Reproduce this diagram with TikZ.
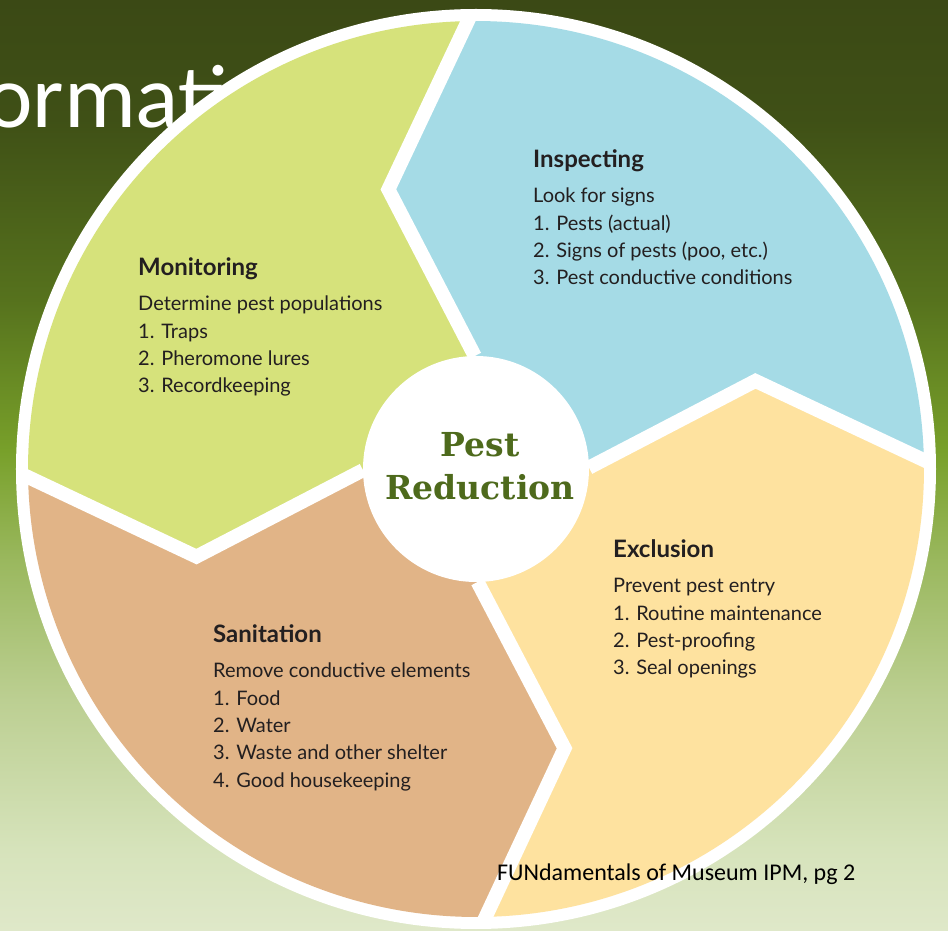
\documentclass[tikz,border=0pt]{standalone}
\usepackage{fontspec}
\setmainfont{Lato}
\newfontfamily\slabfont{DejaVu Serif}
\newfontfamily\slidefont{Carlito}
\usetikzlibrary{positioning}

\definecolor{segGreen}{HTML}{D6E27B}
\definecolor{segBlue}{HTML}{A5DBE6}
\definecolor{segYellow}{HTML}{FEE29F}
\definecolor{segTan}{HTML}{E1B487}
\definecolor{inkDark}{HTML}{231F20}
\definecolor{hubGreen}{HTML}{4E6A1C}
\definecolor{bgTop}{HTML}{3B4915}
\definecolor{bgDark}{HTML}{3F5016}
\definecolor{bgOlive}{HTML}{56721D}
\definecolor{bgBright}{HTML}{78A02A}
\definecolor{bgLight}{HTML}{9AB85E}
\definecolor{bgPale}{HTML}{BCCF92}
\definecolor{bgPaler}{HTML}{D6E3BB}
\definecolor{bgBottom}{HTML}{DFE8C9}

\pgfdeclareverticalshading{slidebg}{100bp}{color(0bp)=(bgBottom); color(25bp)=(bgBottom);
  color(29.4bp)=(bgPaler); color(37.4bp)=(bgPale); color(44.9bp)=(bgLight);
  color(50.8bp)=(bgBright); color(58.9bp)=(bgOlive); color(68.6bp)=(bgDark);
  color(75bp)=(bgTop); color(100bp)=(bgTop)}

% list of lines, first baseline on the node's base
\newcommand{\steplines}[1]{\begin{tabular}[t]{@{}l@{}}#1\end{tabular}}

\tikzset{
  whitegap/.style={white, line width=14pt, line join=miter},
  hubdisc/.style={circle, fill=white, inner sep=0pt, minimum size=226pt},
  stephead/.style={anchor=base west, inner sep=0pt, text=inkDark, font=\fontsize{24}{28}\selectfont\bfseries},
  stepbody/.style={anchor=base west, inner sep=0pt, text=inkDark, font=\fontsize{20}{27.3}\selectfont},
}

\begin{document}
\begin{tikzpicture}[x=1pt, y=1pt]
\clip (-476,-462) rectangle (472,469);
\shade[shading=slidebg] (-476,-462) rectangle (472,469);
\node[anchor=base west, inner sep=0pt, text=white, font=\slidefont\fontsize{90}{90}\selectfont] (slidetitle) at (-491,341) {ormati};

% wheel
\fill[white] (0,0) circle (460);
\foreach \a/\b/\col in {0.7/90.6/segBlue, 90.6/180.6/segGreen, 180.6/270.8/segTan, 270.8/360.7/segYellow}
  \fill[\col] (\a:113) -- ({\a+16.8}:293) -- (\a:448) arc[start angle=\a, end angle=\b, radius=448] -- ({\b+16.8}:293) -- (\b:113) -- cycle;
\foreach \a in {0.7,90.6,180.6,270.8}
  \draw[whitegap] (\a:113) -- ({\a+16.8}:293) -- (\a:455);
\node[hubdisc] (hub) at (0,0) {};
\node[anchor=base, align=center, inner sep=0pt, text=hubGreen, font=\slabfont\bfseries\fontsize{33}{43}\selectfont] (hubtitle) at (4,-31) {Pest\\Reduction};

% steps
\node[stephead] (monhead) at (-338,193) {Monitoring};
\node[stepbody] (monbody) at (-338,158) {\steplines{Determine pest populations\\1. Traps\\2. Pheromone lures\\3. Recordkeeping}};
\node[stephead] (insphead) at (57,301) {Inspecting};
\node[stepbody] (inspbody) at (57,266) {\steplines{Look for signs\\1. Pests (actual)\\2. Signs of pests (poo, etc.)\\3. Pest conductive conditions}};
\node[stephead] (exclhead) at (137,-89) {Exclusion};
\node[stepbody] (exclbody) at (137,-124) {\steplines{Prevent pest entry\\1. Routine maintenance\\2. Pest-proofing\\3. Seal openings}};
\node[stephead] (sanihead) at (-263,-174) {Sanitation};
\node[stepbody] (sanibody) at (-263,-209) {\steplines{Remove conductive elements\\1. Food\\2. Water\\3. Waste and other shelter\\4. Good housekeeping}};

\node[anchor=base west, inner sep=0pt, text=black, font=\slidefont\fontsize{24}{28}\selectfont] (source) at (21,-411) {FUNdamentals of Museum IPM, pg 2};
\end{tikzpicture}
\end{document}
